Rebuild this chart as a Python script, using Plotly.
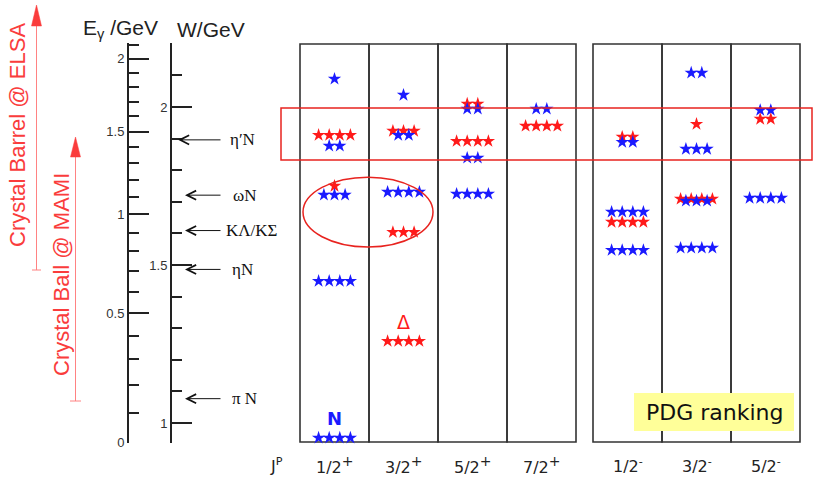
import plotly.graph_objects as go
import math

# ---------------- data ----------------
MP = 0.938  # proton mass (GeV), W at E_gamma = 0

col_keys = ["1/2+", "3/2+", "5/2+", "7/2+", "1/2-", "3/2-", "5/2-"]
col_frac = ["1/2", "3/2", "5/2", "7/2", "1/2", "3/2", "5/2"]
col_parity = ["+", "+", "+", "+", "-", "-", "-"]

# Nucleon resonances (blue): J^P, mass W (GeV), PDG star rating
n_jp = ["1/2+", "1/2+", "1/2+", "1/2+", "1/2+",
        "3/2+", "3/2+", "3/2+",
        "5/2+", "5/2+", "5/2+",
        "7/2+",
        "1/2-", "1/2-", "1/2-",
        "3/2-", "3/2-", "3/2-", "3/2-",
        "5/2-", "5/2-"]
n_mass = [2.089, 1.877, 1.722, 1.449, 0.953,
          2.038, 1.911, 1.731,
          1.994, 1.839, 1.725,
          1.994,
          1.889, 1.668, 1.547,
          2.108, 1.867, 1.703, 1.554,
          1.990, 1.712]
n_rank = [1, 2, 3, 4, 4,
          1, 2, 4,
          2, 2, 4,
          2,
          2, 4, 4,
          2, 3, 3, 4,
          2, 4]

# Delta resonances (red)
d_jp = ["1/2+", "1/2+", "3/2+", "3/2+", "3/2+", "5/2+", "5/2+", "7/2+",
        "1/2-", "1/2-", "3/2-", "3/2-", "5/2-"]
d_mass = [1.911, 1.750, 1.924, 1.604, 1.259, 2.010, 1.892, 1.940,
          1.905, 1.636, 1.946, 1.709, 1.962]
d_rank = [4, 1, 3, 3, 4, 2, 4, 4, 2, 4, 1, 4, 2]

# thresholds marked on the W axis
thr_labels = ["η′N", "ωN", "KΛ/KΣ", "ηN", "π N"]
thr_W = [1.896, 1.721, 1.609, 1.486, 1.077]

w_ticks = [1, 1.5, 2]
w_ticktext = ["1", "1.5", "2"]
w_minor = [1.0, 1.1, 1.2, 1.3, 1.4, 1.5, 1.6, 1.7, 1.8, 1.9, 2.0, 2.1, 2.2]

eg_ticks = [0, 0.5, 1, 1.5, 2]
eg_ticktext = ["0", "0.5", "1", "1.5", "2"]
eg_minor = [0.0, 0.1, 0.2, 0.3, 0.4, 0.5, 0.6, 0.7, 0.8, 0.9, 1.0,
            1.1, 1.2, 1.3, 1.4, 1.5, 1.6, 1.7, 1.8, 1.9, 2.0, 2.1]

band_W = [1.832, 1.997]          # highlighted mass band
ellipse_W = [1.557, 1.778]       # missing-resonance ellipse

# ---------------- layout helpers ----------------
FW, FH = 813, 478
def px(p):
    return p / FW
def py(p):
    return 1 - p / FH

COLW = 69.0     # px per column
X0PX = 300.0    # px of first column edge
GAP = 17.0 / COLW
XR = [-X0PX / COLW, (FW - X0PX) / COLW]

def W_of_px(p):
    return 1 + (423 - p) / 316.0

YR = [W_of_px(443), W_of_px(43)]
DOM = [py(443), py(43)]

def col_left(i):
    return i if i < 4 else i + GAP

col_x = [col_left(i) + 0.5 for i in range(len(col_keys))]

def W_from_Eg(e):
    return math.sqrt(MP * MP + 2 * MP * e)

STEP = 10.6 / COLW

def expand(jp, mass, rank):
    xs, ys = [], []
    for j, m, r in zip(jp, mass, rank):
        cx = col_x[col_keys.index(j)]
        for k in range(r):
            xs.append(cx + (k - (r - 1) / 2) * STEP)
            ys.append(m)
    return xs, ys

BLUE = "#1a1aff"
RED = "#ff1a1a"

fig = go.Figure()
dx, dy = expand(d_jp, d_mass, d_rank)
nx, ny = expand(n_jp, n_mass, n_rank)
fig.add_trace(go.Scatter(x=dx, y=dy, mode="markers", cliponaxis=False,
                         marker=dict(symbol="star", size=10, color=RED, line=dict(width=0)),
                         hoverinfo="skip"))
fig.add_trace(go.Scatter(x=nx, y=ny, mode="markers", cliponaxis=False,
                         marker=dict(symbol="star", size=10, color=BLUE, line=dict(width=0)),
                         hoverinfo="skip"))
fig.add_trace(go.Scatter(x=[0], y=[1.5], yaxis="y2", mode="markers",
                         marker=dict(opacity=0), hoverinfo="skip"))

shapes = []
for i in range(len(col_keys)):
    shapes.append(dict(type="rect", xref="x", yref="y", x0=col_left(i), x1=col_left(i) + 1,
                       y0=W_of_px(442), y1=W_of_px(44),
                       line=dict(color="#333", width=1.6), layer="below"))
shapes.append(dict(type="rect", xref="x", yref="y", x0=(281 - X0PX) / COLW, x1=(812 - X0PX) / COLW,
                   y0=band_W[0], y1=band_W[1], line=dict(color="#e8231f", width=1.5)))
shapes.append(dict(type="circle", xref="x", yref="y", x0=(303 - X0PX) / COLW, x1=(433 - X0PX) / COLW,
                   y0=ellipse_W[0], y1=ellipse_W[1], line=dict(color="#e8231f", width=1.5)))

def vline(x, y0, y1, color, w=1):
    return dict(type="line", xref="paper", yref="paper", x0=px(x), x1=px(x), y0=py(y0), y1=py(y1),
                line=dict(color=color, width=w))
def hline(x0, x1, y, color, w=1):
    return dict(type="line", xref="paper", yref="paper", x0=px(x0), x1=px(x1), y0=py(y), y1=py(y),
                line=dict(color=color, width=w))
def tri(xc, ytip, ybase, half, color):
    path = "M {} {} L {} {} L {} {} Z".format(px(xc), py(ytip), px(xc - half), py(ybase),
                                             px(xc + half), py(ybase))
    return dict(type="path", xref="paper", yref="paper", path=path, fillcolor=color,
                line=dict(color=color, width=0.5))

LRED = "rgb(255,130,130)"
HRED = "rgb(250,60,60)"
shapes += [vline(36.5, 270, 22, LRED), hline(32, 41, 270, LRED), tri(36.5, 5, 26, 5, HRED),
           vline(75.5, 401, 154, LRED), hline(70, 81, 401, LRED), tri(75.5, 137, 157, 5, HRED)]

shapes.append(dict(type="rect", xref="paper", yref="paper", x0=px(634), x1=px(794), y0=py(431), y1=py(393),
                   fillcolor="#ffff99", line=dict(width=0), layer="above"))

ann = []
def label(text, x, y, xref="paper", yref="paper", **kw):
    d = dict(text=text, x=x, y=y, xref=xref, yref=yref, showarrow=False,
             xanchor="center", yanchor="middle")
    d.update(kw)
    ann.append(d)

label("E<sub>γ</sub> /GeV", px(120), py(29), font=dict(family="Liberation Sans", size=21, color="#222"))
label("W/GeV", px(211.5), py(29), font=dict(family="Liberation Sans", size=21, color="#222"))

heads = [178, 185, 185, 185, 185]
textx = [228, 231, 224, 230, 230]
for lab, w, h, tx in zip(thr_labels, thr_W, heads, textx):
    ann.append(dict(text="", x=px(h), y=w, xref="paper", yref="y", ax=222 - h, ay=0,
                    axref="pixel", ayref="pixel", showarrow=True, arrowhead=5, arrowsize=1.8,
                    arrowwidth=1, arrowcolor="#111"))
    label(lab, px(tx), w, yref="y", xanchor="left",
          font=dict(family="Liberation Serif", size=17, color="#111"))

label("Crystal Barrel @ ELSA", px(17), py(135), textangle=-90,
      font=dict(family="Liberation Sans", size=22, color=HRED))
label("Crystal Ball @ MAMI", px(61), py(275), textangle=-90,
      font=dict(family="Liberation Sans", size=22, color=HRED))

for cx, fr, par in zip(col_x, col_frac, col_parity):
    sup = '<sup><span style="font-size:14px">+</span></sup>' if par == "+" else "<sup>-</sup>"
    label(fr + sup, cx, py(465), xref="x", font=dict(family="DejaVu Sans", size=16, color="#222"))
label("J<sup>P</sup>", px(276), py(465), font=dict(family="DejaVu Sans", size=16, color="#222"))

label("<b>N</b>", col_x[0], W_of_px(418), xref="x", yref="y",
      font=dict(family="DejaVu Sans", size=18, color=BLUE))
label("Δ", col_x[1], W_of_px(322), xref="x", yref="y",
      font=dict(family="DejaVu Sans", size=19, color=RED))
label("PDG ranking", px(714), py(412), font=dict(family="DejaVu Sans", size=22, color="#111"))

axcommon = dict(showgrid=False, zeroline=False, showline=True, linewidth=2, linecolor="#222",
                ticks="inside", ticklen=20, tickwidth=2, tickcolor="#222", tickmode="array",
                tickfont=dict(family="Liberation Sans", size=13, color="#333"),
                fixedrange=True, automargin=False)

fig.update_layout(
    width=FW, height=FH, margin=dict(l=0, r=0, t=0, b=0),
    paper_bgcolor="white", plot_bgcolor="white", showlegend=False,
    xaxis=dict(range=XR, domain=[0, 1], visible=False, fixedrange=True),
    yaxis=dict(domain=DOM, range=YR, anchor="free", position=px(171), side="left",
               tickvals=w_ticks, ticktext=w_ticktext,
               minor=dict(tickmode="array", tickvals=w_minor, ticks="inside", ticklen=10,
                          tickwidth=2, tickcolor="#222"),
               **axcommon),
    yaxis2=dict(overlaying="y", range=YR, anchor="free", position=px(128), side="left",
                tickvals=[W_from_Eg(e) for e in eg_ticks], ticktext=eg_ticktext,
                minor=dict(tickmode="array", tickvals=[W_from_Eg(e) for e in eg_minor], ticks="inside",
                           ticklen=10, tickwidth=2, tickcolor="#222"),
                **axcommon),
    shapes=shapes, annotations=ann,
)

fig.write_html("out.html", config={"displayModeBar": False},
               post_script="document.body.style.margin='0px';")
